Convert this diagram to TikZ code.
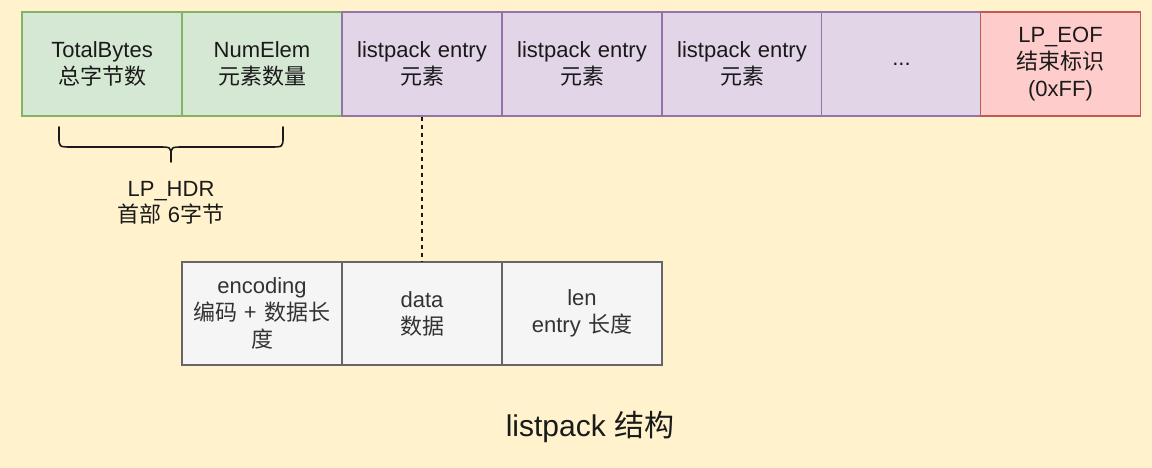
\documentclass[tikz,border=0pt]{standalone}
\usepackage{fontspec}
\setmainfont{Liberation Sans}
\newfontfamily\cjk{Noto Sans CJK SC}
\definecolor{bgc}{HTML}{FFF2CC}
\definecolor{gfill}{HTML}{D5E8D4}\definecolor{gdraw}{HTML}{82B366}
\definecolor{pfill}{HTML}{E1D5E7}\definecolor{pdraw}{HTML}{9673A6}
\definecolor{rfill}{HTML}{FFCCCC}\definecolor{rdraw}{HTML}{C05A55}
\definecolor{sfill}{HTML}{F5F5F5}\definecolor{sdraw}{HTML}{666666}
\definecolor{txt}{HTML}{1A1A1A}\definecolor{txtg}{HTML}{333333}
\tikzset{
  cell/.style={draw, line width=1.5pt, minimum width=160pt, minimum height=104pt,
    inner sep=0pt, align=center, text width=154pt,
    font=\fontsize{22}{27}\selectfont, text=txt},
  gcell/.style={cell, fill=gfill, draw=gdraw},
  pcell/.style={cell, fill=pfill, draw=pdraw},
  rcell/.style={cell, fill=rfill, draw=rdraw},
  scell/.style={cell, fill=sfill, draw=sdraw, text=txtg, minimum height=103pt},
  lbl/.style={align=center, font=\fontsize{22}{26}\selectfont, text=txt, inner sep=0pt},
  bracel/.style={line width=1.6pt, draw=txt, line cap=round}
}
\begin{document}
\begin{tikzpicture}[x=1pt,y=-1pt]
\fill[bgc] (0,0) rectangle (1152,468);
\useasboundingbox (0,0) rectangle (1152,468);
\node[gcell] (tb) at (102,64) {TotalBytes\\{\cjk 总字节数}};
\node[gcell] (ne) at (262,64) {NumElem\\{\cjk 元素数量}};
\node[pcell] (e1) at (422,64) {listpack entry\\{\cjk 元素}};
\node[pcell] (e2) at (582,64) {listpack entry\\{\cjk 元素}};
\node[pcell] (e3) at (742,64) {listpack entry\\{\cjk 元素}};
\node[pcell] (dots) at (901.5,64) {...};
\node[rcell] (eof) at (1060.5,64) {LP\_EOF\\{\cjk 结束标识}\\(0xFF)};
\node[scell] (enc) at (262,313.5) {encoding\\{\cjk 编码 + 数据长}\\{\cjk 度}};
\node[scell] (dat) at (422,313.5) {data\\{\cjk 数据}};
\node[scell] (len) at (582,313.5) {len\\entry {\cjk 长度}};
\coordinate (bl) at (59,127);
\coordinate (br) at (283,127);
\coordinate (bt) at (171,162);
\draw[bracel] (bl) -- (59,137) .. controls (59,147) .. (72,147) -- (158,147)
  .. controls (171,147) .. (171,156) -- (bt);
\draw[bracel] (br) -- (283,137) .. controls (283,147) .. (270,147) -- (184,147)
  .. controls (171,147) .. (171,156);
\node[lbl] (hdr) at (171,203) {LP\_HDR\\{\cjk 首部} 6{\cjk 字节}};
\draw[line width=1.6pt, dash pattern=on 4pt off 4pt, txt] (e1.south) -- (dat.north);
\node[lbl, font=\fontsize{30}{34}\selectfont] (title) at (590,427) {listpack {\cjk 结构}};
\end{tikzpicture}
\end{document}
